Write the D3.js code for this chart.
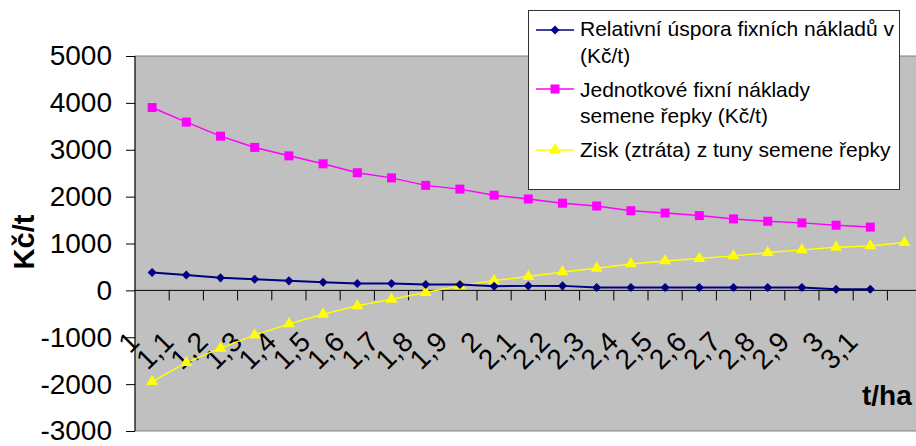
<!DOCTYPE html>
<html>
<head>
<meta charset="utf-8">
<script src="https://cdn.jsdelivr.net/npm/d3@7/dist/d3.min.js"></script>
<style>
  html, body { margin: 0; padding: 0; background: #fff; }
  svg { display: block; font-family: "Liberation Sans", Arial, sans-serif; }
</style>
</head>
<body>
<svg id="chart" width="916" height="446"></svg>
<script>
// Yield per hectare (t/ha); the last category has no label
const categories = ["1","1,1","1,2","1,3","1,4","1,5","1,6","1,7","1,8","1,9",
  "2","2,1","2,2","2,3","2,4","2,5","2,6","2,7","2,8","2,9","3","3,1",""];

// Relativní úspora fixních nákladů (Kč/t)
const uspora = [380, 330, 267, 239, 203, 175, 145, 145, 124, 124, 90,
  96, 96, 60, 60, 60, 60, 60, 60, 60, 25, 25];

// Jednotkové fixní náklady semene řepky (Kč/t)
const naklady = [3900, 3590, 3290, 3050, 2870, 2700, 2510, 2400, 2240, 2160, 2030,
  1950, 1860, 1800, 1700, 1650, 1595, 1525, 1475, 1440, 1390, 1350];

// Zisk (ztráta) z tuny semene řepky
const zisk = [-1945, -1540, -1233, -955, -714, -508, -330, -188, -46, 96, 209,
  294, 394, 473, 565, 629, 678, 736, 806, 864, 921, 949, 1019];

const yTicks = [-3000, -2000, -1000, 0, 1000, 2000, 3000, 4000, 5000];

const seriesNames = [
  ["Relativní úspora fixních nákladů v", "(Kč/t)"],
  ["Jednotkové fixní náklady", "semene řepky (Kč/t)"],
  ["Zisk (ztráta) z tuny semene řepky"]
];

const svg = d3.select("#chart");

const plot = { left: 135, top: 56, bottom: 431, step: 34.2 };
const plotRight = plot.left + plot.step * categories.length;

const x = d3.scaleBand().domain(categories.map((c, i) => i)).range([plot.left, plotRight]).padding(0);
const y = d3.scaleLinear().domain([-3000, 5000]).range([plot.bottom, plot.top]);
const bw = x.bandwidth();
const cx = i => x(i) + bw / 2;

// plot area
svg.append("rect")
  .attr("x", plot.left).attr("y", plot.top)
  .attr("width", plotRight - plot.left).attr("height", plot.bottom - plot.top)
  .attr("fill", "#C0C0C0").attr("stroke", "#808080").attr("stroke-width", 1);

// value axis
const yAxis = svg.append("g")
  .attr("transform", `translate(${plot.left},0)`)
  .call(d3.axisLeft(y).tickValues(yTicks).tickSize(9).tickPadding(14).tickFormat(d => String(d)));
yAxis.select(".domain").attr("stroke", "#000").attr("d", `M0,${plot.top}V${plot.bottom}`);
yAxis.selectAll(".tick line").attr("stroke", "#000");
yAxis.selectAll(".tick text")
  .attr("fill", "#000").style("font-size", "28px").style("font-family", "'Liberation Sans', Arial, sans-serif");

// category axis along zero
const y0 = y(0);
svg.append("line")
  .attr("x1", plot.left).attr("x2", plotRight)
  .attr("y1", y0).attr("y2", y0)
  .attr("stroke", "#000").attr("stroke-width", 1);
svg.append("g").selectAll("line")
  .data(categories.map((c, i) => i).slice(1))
  .join("line")
  .attr("x1", d => x(d)).attr("x2", d => x(d))
  .attr("y1", y0).attr("y2", y0 + 10)
  .attr("stroke", "#000").attr("stroke-width", 1);

// rotated category labels
svg.append("g").selectAll("text")
  .data(categories)
  .join("text")
  .attr("transform", (d, i) => `translate(${cx(i) - 11},${y0 + 53}) rotate(-45)`)
  .attr("text-anchor", "end")
  .style("font-size", "28px")
  .attr("fill", "#000")
  .text(d => d);

// series
const series = [
  { data: naklady, color: "#FF00FF", width: 1.5, symbol: d3.symbolSquare, size: 81, rot: 0 },
  { data: zisk, color: "#FFFF00", width: 1.5, symbol: d3.symbolTriangle, size: 62, rot: 0 },
  { data: uspora, color: "#000080", width: 2, symbol: d3.symbolSquare, size: 41, rot: 45 }
];

const line = d3.line().x((d, i) => cx(i)).y(d => y(d));

series.forEach(s => {
  svg.append("path")
    .attr("d", line(s.data))
    .attr("fill", "none").attr("stroke", s.color).attr("stroke-width", s.width);
  svg.append("g").selectAll("path")
    .data(s.data)
    .join("path")
    .attr("transform", (d, i) => `translate(${cx(i)},${y(d)}) rotate(${s.rot})`)
    .attr("d", d3.symbol().type(s.symbol).size(s.size))
    .attr("fill", s.color);
});

// axis titles
svg.append("text")
  .attr("transform", `translate(34,242) rotate(-90)`)
  .attr("text-anchor", "middle")
  .style("font-size", "29px").style("font-weight", "bold")
  .text("Kč/t");
svg.append("text")
  .attr("x", 862).attr("y", 405)
  .style("font-size", "28px").style("font-weight", "bold")
  .text("t/ha");

// legend
const legend = svg.append("g");
legend.append("rect")
  .attr("x", 528.5).attr("y", 10.5).attr("width", 371).attr("height", 179)
  .attr("fill", "#fff").attr("stroke", "#333").attr("stroke-width", 1);

const legendItems = [
  { s: series[2], y: 30, baselines: [36, 63] },
  { s: series[0], y: 89, baselines: [97, 123] },
  { s: series[1], y: 150, baselines: [157] }
];
legendItems.forEach((item, k) => {
  const g = legend.append("g");
  g.append("line")
    .attr("x1", 536).attr("x2", 574).attr("y1", item.y).attr("y2", item.y)
    .attr("stroke", item.s.color).attr("stroke-width", 1.5);
  g.append("path")
    .attr("transform", `translate(555,${item.y}) rotate(${item.s.rot})`)
    .attr("d", d3.symbol().type(item.s.symbol).size(item.s.size))
    .attr("fill", item.s.color);
  seriesNames[k].forEach((t, j) => {
    g.append("text")
      .attr("x", 580).attr("y", item.baselines[j])
      .style("font-size", "21px")
      .attr("fill", "#000")
      .text(t);
  });
});
</script>
</body>
</html>
